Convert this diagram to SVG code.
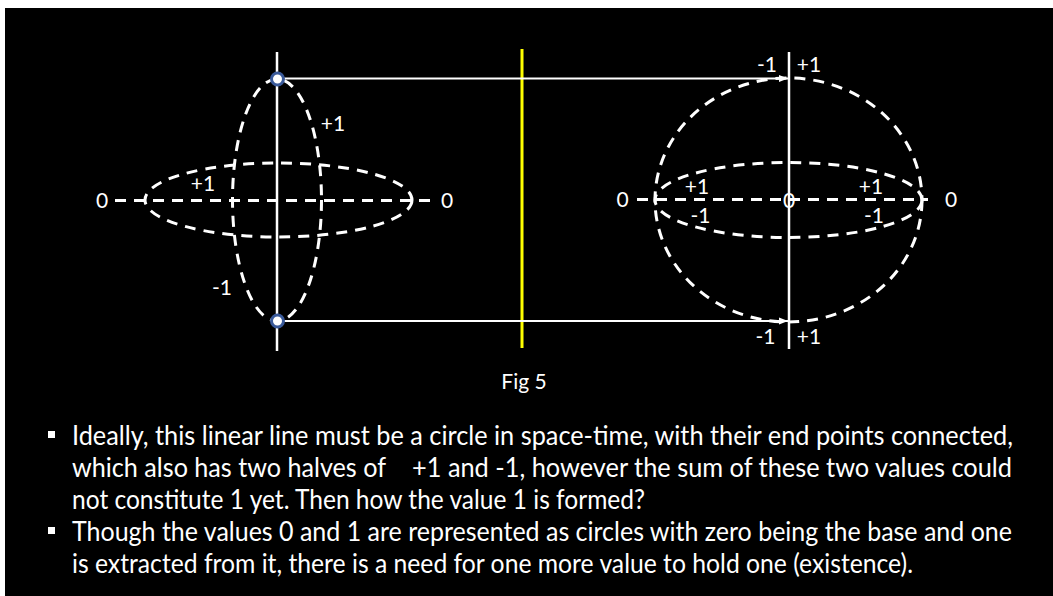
<svg xmlns="http://www.w3.org/2000/svg" width="1053" height="596" viewBox="0 0 1053 596">
<defs>
<style>
.dash{fill:none;stroke:#fff;stroke-width:3;stroke-dasharray:11 8}
.axis{stroke:#fff;stroke-width:2.5}
.yel{stroke:#ffff00;stroke-width:3}
.lbl{font-family:Lato,"Open Sans",sans-serif;font-size:21px;fill:#fff;text-anchor:middle}
.cap{font-family:Lato,"Open Sans",sans-serif;font-size:21px;fill:#fff;text-anchor:middle}
.body{font-family:Lato,"Open Sans",sans-serif;font-size:26px;fill:#fff}
.conn{stroke:#fff;stroke-width:2;fill:none}
.pt{fill:#fff;stroke:#3A5A9A;stroke-width:3}
</style>
<marker id="ah" markerUnits="userSpaceOnUse" markerWidth="10" markerHeight="8" refX="9" refY="4" orient="auto"><path d="M0,0.5 L9,4 L0,7.5 z" fill="#fff"/></marker>
</defs>
<rect width="1053" height="596" fill="#fff"/>
<rect x="5" y="8" width="1048" height="588" fill="#000"/>

<g id="left-figure">
  <ellipse class="dash" cx="277" cy="200" rx="44.5" ry="121"/>
  <ellipse class="dash" cx="278.5" cy="200" rx="133.5" ry="37"/>
  <line class="dash" x1="115" y1="200.5" x2="432" y2="200.5"/>
  <line class="axis" x1="277" y1="52" x2="277" y2="351"/>
  <text class="lbl" x="102" y="207.5">0</text>
  <text class="lbl" x="447" y="207.5">0</text>
  <text class="lbl" x="333" y="130.5">+1</text>
  <text class="lbl" x="203" y="190.5">+1</text>
  <text class="lbl" x="222" y="294.5">-1</text>
</g>

<g id="divider">
  <line class="yel" x1="522" y1="49" x2="522" y2="348"/>
</g>

<g id="right-figure">
  <ellipse class="dash" cx="788.5" cy="200" rx="133.5" ry="122"/>
  <ellipse class="dash" cx="788.5" cy="200" rx="133.5" ry="37.5"/>
  <line class="dash" x1="637" y1="199.5" x2="928" y2="199.5"/>
  <line class="axis" x1="789" y1="52" x2="789" y2="349"/>
  <text class="lbl" x="622.5" y="206.5">0</text>
  <text class="lbl" x="951" y="206.5">0</text>
  <text class="lbl" x="789" y="207.5">0</text>
  <text class="lbl" x="697" y="193.5">+1</text>
  <text class="lbl" x="871" y="193.5">+1</text>
  <text class="lbl" x="700.5" y="222.5">-1</text>
  <text class="lbl" x="874" y="222.5">-1</text>
  <text class="lbl" x="767" y="72">-1</text>
  <text class="lbl" x="809" y="72">+1</text>
  <text class="lbl" x="765.5" y="344">-1</text>
  <text class="lbl" x="809" y="344">+1</text>
</g>

<g id="connectors">
  <line class="conn" x1="284" y1="78.5" x2="788" y2="78.5" marker-end="url(#ah)"/>
  <line class="conn" x1="284" y1="321" x2="788" y2="321" marker-end="url(#ah)"/>
</g>

<g id="points">
  <circle class="pt" cx="277.5" cy="79" r="6"/>
  <circle class="pt" cx="277.5" cy="321" r="6"/>
</g>

<g id="caption">
  <text class="cap" x="524" y="389">Fig 5</text>
</g>

<g id="bullets">
  <rect x="48" y="431" width="7" height="7" fill="#fff"/>
  <rect x="48" y="527" width="7" height="7" fill="#fff"/>
  <text class="body" x="72" y="445" textLength="941" lengthAdjust="spacingAndGlyphs">Ideally, this linear line must be a circle in space-time, with their end points connected,</text>
  <text class="body" x="72" y="477" textLength="314" lengthAdjust="spacingAndGlyphs">which also has two halves of</text>
  <text class="body" x="412" y="477" textLength="600" lengthAdjust="spacingAndGlyphs">+1 and -1, however the sum of these two values could</text>
  <text class="body" x="72" y="509" textLength="573" lengthAdjust="spacingAndGlyphs">not constitute 1 yet. Then how the value 1 is formed?</text>
  <text class="body" x="72" y="541" textLength="940" lengthAdjust="spacingAndGlyphs">Though the values 0 and 1 are represented as circles with zero being the base and one</text>
  <text class="body" x="72" y="573" textLength="841" lengthAdjust="spacingAndGlyphs">is extracted from it, there is a need for one more value to hold one (existence).</text>
</g>
</svg>
